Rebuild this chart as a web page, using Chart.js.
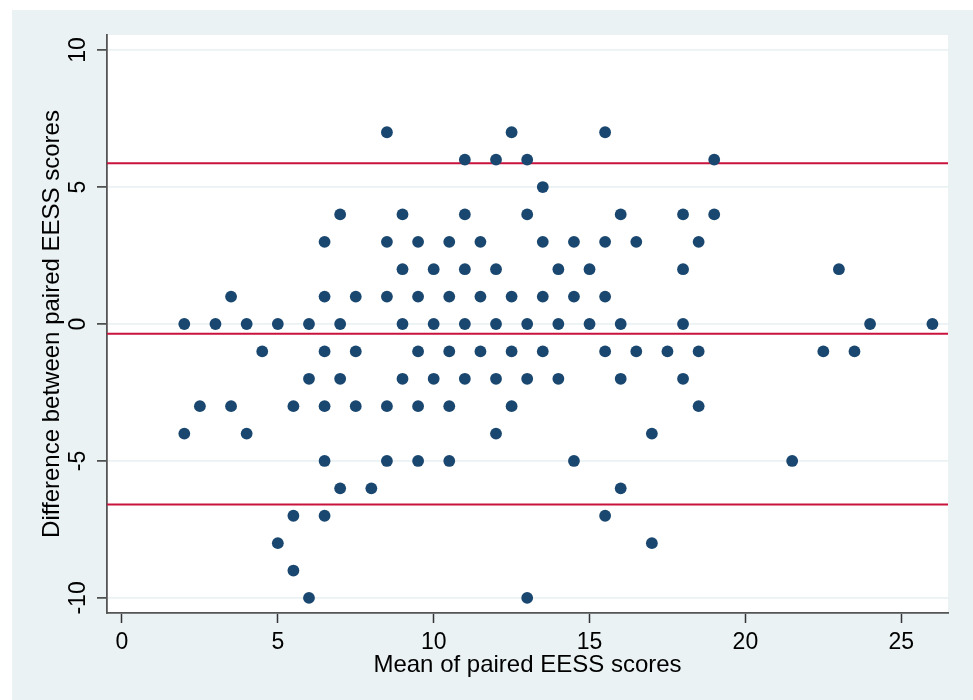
<!DOCTYPE html>
<html>
<head>
<meta charset="utf-8">
<title>Mean vs difference of paired EESS scores</title>
<script src="https://cdn.jsdelivr.net/npm/chart.js@4/dist/chart.umd.min.js"></script>
<style>
  html, body { margin: 0; padding: 0; background: #ffffff; }
  #panel {
    position: absolute; left: 12px; top: 10px;
    width: 961px; height: 690px;
    background: #eaf2f3;
  }
  #chart { display: block; }
</style>
</head>
<body>
<div id="panel"><canvas id="chart" width="961" height="690"></canvas></div>
<script>
// Bland–Altman points: mean of the paired EESS scores (x) against their difference (y),
// listed row by row from the highest difference to the lowest.
const meanScores = [
  8.5, 12.5, 15.5,                                                   // +7
  11, 12, 13, 19,                                                    // +6
  13.5,                                                              // +5
  7, 9, 11, 13, 16, 18, 19,                                          // +4
  6.5, 8.5, 9.5, 10.5, 11.5, 13.5, 14.5, 15.5, 16.5, 18.5,           // +3
  9, 10, 11, 12, 14, 15, 18, 23,                                     // +2
  3.5, 6.5, 7.5, 8.5, 9.5, 10.5, 11.5, 12.5, 13.5, 14.5, 15.5,       // +1
  2, 3, 4, 5, 6, 7, 9, 10, 11, 12, 13, 14, 15, 16, 18, 24, 26,       // 0
  4.5, 6.5, 7.5, 9.5, 10.5, 11.5, 12.5, 13.5, 15.5, 16.5, 17.5, 18.5, 22.5, 23.5, // -1
  6, 7, 9, 10, 11, 12, 13, 14, 16, 18,                               // -2
  2.5, 3.5, 5.5, 6.5, 7.5, 8.5, 9.5, 10.5, 12.5, 18.5,               // -3
  2, 4, 12, 17,                                                      // -4
  6.5, 8.5, 9.5, 10.5, 14.5, 21.5,                                   // -5
  7, 8, 16,                                                          // -6
  5.5, 6.5, 15.5,                                                    // -7
  5, 17,                                                             // -8
  5.5,                                                               // -9
  6, 13                                                              // -10
];
const scoreDiffs = [
  7, 7, 7,
  6, 6, 6, 6,
  5,
  4, 4, 4, 4, 4, 4, 4,
  3, 3, 3, 3, 3, 3, 3, 3, 3, 3,
  2, 2, 2, 2, 2, 2, 2, 2,
  1, 1, 1, 1, 1, 1, 1, 1, 1, 1, 1,
  0, 0, 0, 0, 0, 0, 0, 0, 0, 0, 0, 0, 0, 0, 0, 0, 0,
  -1, -1, -1, -1, -1, -1, -1, -1, -1, -1, -1, -1, -1, -1,
  -2, -2, -2, -2, -2, -2, -2, -2, -2, -2,
  -3, -3, -3, -3, -3, -3, -3, -3, -3, -3,
  -4, -4, -4, -4,
  -5, -5, -5, -5, -5, -5,
  -6, -6, -6,
  -7, -7, -7,
  -8, -8,
  -9,
  -10, -10
];

// Mean difference and the upper / lower 95% limits of agreement
const agreementLines = [5.87, -0.36, -6.59];

// Axis tick labels
const xTicks = [0, 5, 10, 15, 20, 25];
const yTicks = [-10, -5, 0, 5, 10];

const X_MIN = -0.48, X_MAX = 26.5;
const Y_MIN = -10.55, Y_MAX = 10.55;

const NAVY = '#1a476f';
const CRANBERRY = '#c9123c';
const AXIS_GREY = '#555555';
const GRID = '#eaf2f3';
const FONT = '"Liberation Sans", Arial, sans-serif';

const points = meanScores.map((m, i) => ({ x: m, y: scoreDiffs[i] }));

const limitSets = agreementLines.map(v => ({
  type: 'line',
  data: [{ x: X_MIN, y: v }, { x: X_MAX, y: v }],
  borderColor: CRANBERRY,
  borderWidth: 2,
  pointRadius: 0,
  fill: false,
  order: 2
}));

// White plot region on the tinted graph region
const plotFill = {
  id: 'plotFill',
  beforeDraw(chart) {
    const { ctx, chartArea: a } = chart;
    ctx.save();
    ctx.fillStyle = '#ffffff';
    ctx.fillRect(a.left, a.top, a.right - a.left, a.bottom - a.top);
    ctx.restore();
  }
};

new Chart(document.getElementById('chart'), {
  type: 'scatter',
  data: {
    datasets: [
      {
        data: points,
        backgroundColor: NAVY,
        borderWidth: 0,
        pointRadius: 5.9,
        pointHoverRadius: 5.9,
        order: 1
      },
      ...limitSets
    ]
  },
  options: {
    responsive: false,
    devicePixelRatio: 1,
    animation: false,
    events: [],
    layout: { padding: { left: 0, top: 25, right: 25, bottom: 0 } },
    plugins: { legend: { display: false }, tooltip: { enabled: false } },
    scales: {
      x: {
        type: 'linear',
        min: X_MIN,
        max: X_MAX,
        afterBuildTicks: s => { s.ticks = xTicks.map(v => ({ value: v })); },
        afterFit: s => { s.height = 87; },
        ticks: {
          color: '#000',
          font: { family: FONT, size: 23 },
          padding: 6,
          maxRotation: 0,
          autoSkip: false
        },
        grid: {
          drawOnChartArea: false,
          drawTicks: true,
          tickLength: 10,
          tickColor: '#333',
          tickWidth: 1.5
        },
        border: { display: true, color: AXIS_GREY, width: 1.8 },
        title: {
          display: true,
          text: 'Mean of paired EESS scores',
          color: '#000',
          font: { family: FONT, size: 24 },
          padding: { top: 0, bottom: 20 }
        }
      },
      y: {
        type: 'linear',
        min: Y_MIN,
        max: Y_MAX,
        afterBuildTicks: s => { s.ticks = yTicks.map(v => ({ value: v })); },
        afterFit: s => { s.width = 95; },
        ticks: {
          color: '#000',
          font: { family: FONT, size: 23 },
          minRotation: 90,
          maxRotation: 90,
          crossAlign: 'center',
          padding: 2,
          autoSkip: false
        },
        grid: {
          color: GRID,
          lineWidth: 1.8,
          drawTicks: true,
          tickLength: 10,
          tickColor: '#333',
          tickWidth: 1.5
        },
        border: { display: true, color: AXIS_GREY, width: 1.8 },
        title: {
          display: true,
          text: 'Difference between paired EESS scores',
          color: '#000',
          font: { family: FONT, size: 24 },
          padding: { top: 26, bottom: 0 }
        }
      }
    }
  },
  plugins: [plotFill]
});
</script>
</body>
</html>
